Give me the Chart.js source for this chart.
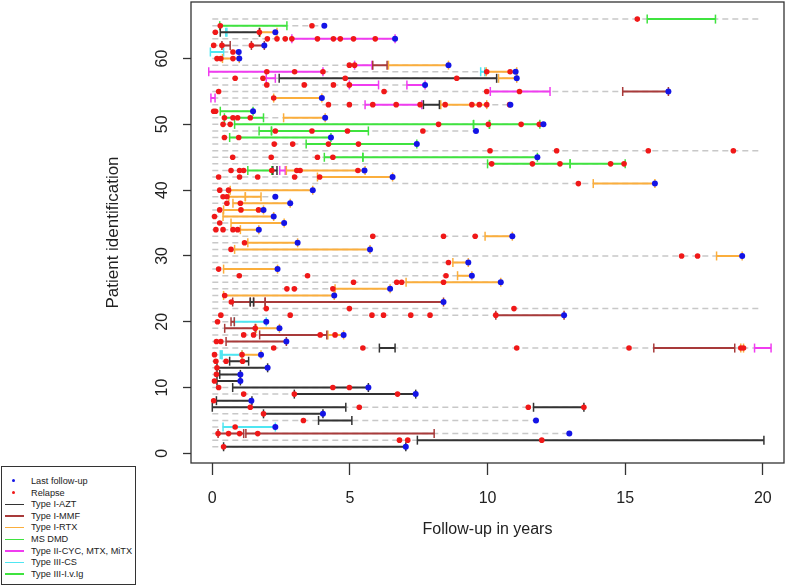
<!DOCTYPE html>
<html>
<head>
<meta charset="utf-8">
<script src="https://cdn.jsdelivr.net/npm/chart.js@4"></script>
<style>
  html, body { margin: 0; padding: 0; background: #fff; }
  #wrap { position: relative; width: 787px; height: 587px; }
  #legend {
    position: absolute; left: 1px; top: 466px; width: 133px; height: 117px;
    border: 1px solid #333; background: #fff;
    font-family: "Liberation Sans", Arial, sans-serif; font-size: 9.2px; color: #222;
  }
  .item { position: absolute; left: 0; height: 12px; line-height: 12px; white-space: nowrap; }
  .item .sym { position: absolute; left: 3px; width: 19px; top: 5.5px; height: 1.5px; }
  .item .dot { position: absolute; left: 10px; top: 4px; width: 3px; height: 3px; border-radius: 2px; }
  .item span { position: absolute; left: 29px; }
</style>
</head>
<body>
<div id="wrap">
  <canvas id="chart" width="787" height="587"></canvas>
  <div id="legend"></div>
</div>
<script>
// follow-up end (years) for patients 1..66 -> dashed line
const followUp = [
  7.03, 20.04, 12.97, 2.29, 11.76, 4.02, 13.5, 1.44, 7.39, 5.67,
  1.02, 1.02, 2.01, 1.32, 1.77, 19.85, 2.69, 4.77, 2.44, 1.96,
  12.78, 19.85, 8.40, 4.43, 6.46, 10.48, 9.43, 2.37, 9.30, 19.25,
  5.73, 3.10, 10.9, 1.69, 2.61, 2.23, 1.86, 2.83, 2.29, 3.65,
  16.08, 6.55, 5.53, 15.0, 11.81, 19.85, 7.43, 4.31, 9.58, 12.03,
  4.10, 1.48, 10.83, 3.98, 16.57, 7.73, 11.06, 11.02, 8.58, 0.98,
  0.96, 1.89, 6.64, 2.29, 4.07, 19.85
];

// [patient, year]
const lastFollowUp = [
  [1, 7.03], [3, 12.97], [4, 2.29], [5, 11.76], [6, 4.02], [8, 1.42], [9, 7.39], [10, 5.67],
  [11, 1.02], [12, 1.02], [13, 2.01], [15, 1.77], [17, 2.69], [18, 4.77], [19, 2.44], [20, 1.96],
  [21, 12.78], [23, 8.40], [24, 4.43], [25, 6.46], [26, 10.48], [27, 9.43], [28, 2.37], [29, 9.30],
  [30, 19.25], [31, 5.73], [32, 3.10], [33, 10.9], [34, 1.69], [35, 2.61], [36, 2.23], [37, 1.86],
  [38, 2.83], [39, 2.29], [40, 3.65], [41, 16.08], [42, 6.55], [43, 5.53], [45, 11.81], [47, 7.43],
  [48, 4.31], [49, 9.58], [50, 12.03], [51, 4.10], [52, 1.48], [53, 10.83], [54, 3.98], [55, 16.57],
  [56, 7.73], [57, 11.06], [58, 11.02], [59, 8.58], [60, 0.98], [61, 0.96], [62, 1.89], [63, 6.64],
  [64, 2.29], [65, 4.07]
];

const relapses = [
  [1, 0.41], [2, 6.80], [2, 7.10], [2, 11.97], [3, 0.21], [3, 0.59], [3, 0.99], [3, 1.65],
  [4, 0.83], [5, 3.31], [6, 1.86], [7, 1.38], [7, 5.34], [7, 11.48], [7, 13.5], [8, 0.05],
  [9, 1.14], [9, 2.98], [9, 6.73], [10, 0.23], [10, 4.38], [10, 4.98], [11, 0.08], [12, 0.15],
  [13, 0.17], [14, 0.13], [14, 0.50], [14, 1.10], [15, 0.08], [15, 1.08],
  [16, 2.23], [16, 5.47], [16, 11.06], [16, 15.14], [16, 19.2], [16, 19.3],
  [17, 0.15], [17, 0.31], [18, 1.14], [18, 1.50], [18, 3.92], [18, 4.46], [19, 1.56], [20, 0.19],
  [21, 0.31], [21, 2.83], [21, 5.80], [21, 6.22], [21, 7.21], [21, 7.91], [21, 10.3],
  [22, 1.96], [22, 4.98], [22, 10.96], [23, 0.69], [24, 0.45], [25, 2.71], [25, 2.98], [25, 4.38],
  [26, 5.13], [26, 6.70], [26, 6.88], [26, 8.40], [27, 0.98], [27, 3.46], [27, 8.49], [28, 0.23],
  [29, 8.58], [30, 17.05], [30, 17.63], [31, 0.68], [32, 1.17], [33, 5.83], [33, 8.40], [33, 9.55],
  [34, 0.13], [34, 0.39], [34, 0.75], [34, 0.92], [35, 0.27], [36, 0.08], [37, 0.27], [37, 1.04],
  [37, 1.68], [38, 0.53], [38, 1.02], [39, 0.39], [39, 0.53], [40, 0.27], [40, 0.59], [41, 13.3],
  [42, 0.23], [42, 0.99], [42, 1.65], [42, 2.99], [42, 3.90],
  [43, 0.68], [43, 0.99], [43, 1.14], [43, 2.16], [43, 3.07], [43, 3.19], [43, 5.29],
  [44, 10.15], [44, 11.63], [44, 12.63], [44, 14.47], [44, 14.96],
  [45, 0.74], [45, 2.14], [45, 3.82], [45, 4.38], [46, 10.09], [46, 12.51], [46, 15.84], [46, 18.93],
  [47, 2.25], [47, 2.92], [47, 4.22], [47, 5.31], [48, 0.44], [48, 0.96],
  [49, 2.29], [49, 3.62], [49, 4.91], [49, 7.65],
  [50, 0.39], [50, 0.65], [50, 8.22], [50, 10.03], [50, 11.22], [50, 11.88],
  [51, 0.44], [51, 0.75], [51, 0.92], [51, 1.38], [52, 0.05], [52, 0.12],
  [53, 4.22], [53, 4.98], [53, 5.83], [53, 6.68], [53, 7.55], [53, 8.46], [53, 9.43], [53, 9.70],
  [53, 9.97], [53, 10.8], [54, 2.23], [55, 0.23], [55, 6.24], [55, 9.97], [55, 11.16],
  [56, 1.98], [56, 3.34], [56, 4.40], [56, 4.98], [57, 0.83], [57, 1.84], [57, 4.83], [57, 8.88],
  [58, 1.98], [58, 2.99], [58, 4.02], [58, 9.97], [58, 10.82], [59, 4.98], [59, 5.17],
  [60, 0.17], [60, 0.31], [60, 0.75], [61, 0.75], [62, 0.05], [62, 0.35], [62, 1.42],
  [63, 2.0], [63, 2.35], [63, 2.65], [63, 2.89], [63, 3.82], [63, 4.40], [63, 4.65], [63, 5.13],
  [63, 5.92], [64, 0.11], [64, 1.71], [65, 0.29], [65, 3.62], [66, 15.44]
];

// treatment periods: [patient, start, end]
const aztSeg = [
  [64, 0.29, 1.71], [57, 2.43, 10.33], [53, 7.67, 8.25], [43, 2.2, 2.35], [23, 1.38, 1.5],
  [16, 6.07, 6.64], [14, 0.63, 1.32], [13, 0.17, 2.01], [12, 0.27, 1.02], [11, 0.17, 1.02],
  [10, 0.74, 5.67], [9, 2.98, 7.39], [8, 0.15, 1.44], [7, 0.0, 4.85], [7, 11.67, 13.5],
  [6, 1.86, 4.02], [5, 3.86, 5.07], [2, 7.45, 20.04], [1, 0.41, 7.03]
];
const mmfSeg = [
  [62, 0.35, 0.65], [62, 1.42, 1.89], [59, 5.83, 6.35], [55, 14.91, 16.57], [23, 0.74, 1.38],
  [23, 1.5, 1.92], [23, 1.92, 8.40], [21, 10.3, 12.78], [20, 0.68, 0.80], [19, 0.45, 1.56],
  [18, 1.72, 4.16], [17, 0.50, 2.69], [16, 16.04, 18.98], [3, 0.21, 1.14], [3, 1.22, 8.06]
];
const rtxSeg = [
  [64, 1.74, 2.35], [60, 0.37, 0.98], [59, 6.4, 8.58], [58, 9.95, 11.06], [57, 10.4, 11.06],
  [54, 2.23, 3.98], [53, 8.3, 9.97], [51, 2.59, 4.10], [43, 2.69, 5.55], [42, 3.82, 6.55],
  [41, 13.84, 16.08], [40, 0.65, 3.65], [39, 0.6, 1.2], [39, 1.2, 1.77], [38, 0.75, 2.83],
  [37, 0.41, 1.86], [36, 0.39, 2.23], [35, 0.68, 2.61], [34, 1.02, 1.69], [33, 9.91, 10.9],
  [32, 1.29, 3.10], [31, 0.81, 5.73], [30, 18.32, 19.25], [29, 8.74, 9.30], [28, 0.41, 2.37],
  [27, 8.91, 9.43], [26, 7.04, 10.48], [25, 4.46, 6.46], [24, 0.41, 4.43], [19, 1.6, 2.44],
  [18, 4.2, 4.77], [16, 19.2, 19.3], [15, 1.08, 1.77]
];
const msdmdSeg = [
  [65, 0.27, 2.71], [52, 0.29, 1.48], [51, 0.44, 1.86], [50, 0.81, 9.49], [50, 9.49, 10.07],
  [50, 10.07, 11.9], [49, 1.7, 2.15], [49, 2.15, 5.67], [48, 0.63, 4.31], [47, 3.41, 7.43],
  [45, 4.07, 5.47], [45, 5.47, 11.81], [43, 1.29, 2.16]
];
const cycSeg = [
  [63, 2.89, 6.64], [59, 5.17, 5.8], [58, -0.13, 4.02], [57, 1.96, 2.29], [56, 4.98, 6.04],
  [56, 7.07, 7.73], [55, 10.1, 12.27], [54, -0.05, 0.1], [53, 5.55, 7.61], [43, 2.45, 2.65],
  [16, 19.7, 20.3]
];
const csSeg = [
  [64, 0.49, 0.53], [61, -0.07, 0.41], [58, 9.75, 9.9], [20, 0.80, 1.96], [15, 0.29, 0.35],
  [15, 0.35, 1.08], [4, 0.39, 2.29]
];
const ivigSeg = [
  [66, 15.8, 18.28], [44, 10.0, 13.0], [44, 13.0, 15.0]
];

const xTicks = [0, 5, 10, 15, 20];
const yTicks = [0, 10, 20, 30, 40, 50, 60];

const treatments = [
  { label: "Type I-AZT", color: "#333333", segs: aztSeg },
  { label: "Type I-MMF", color: "#a83a3a", segs: mmfSeg },
  { label: "Type I-RTX", color: "#fbae3c", segs: rtxSeg },
  { label: "MS DMD", color: "#3fe33f", segs: msdmdSeg },
  { label: "Type II-CYC, MTX, MiTX", color: "#f03cf0", segs: cycSeg },
  { label: "Type III-CS", color: "#4fe6f2", segs: csSeg },
  { label: "Type III-I.v.Ig", color: "#3fe33f", segs: ivigSeg }
];

function segData(segs) {
  let out = [];
  segs.forEach(s => {
    out.push({ x: s[1], y: s[0] }, { x: s[2], y: s[0] }, { x: null, y: null });
  });
  return out;
}

let dashData = [];
followUp.forEach((end, i) => {
  dashData.push({ x: 0, y: i + 1 }, { x: end, y: i + 1 }, { x: null, y: null });
});

let datasets = [];
datasets.push({
  label: "Last follow-up", order: 0, showLine: false,
  data: lastFollowUp.map(p => ({ x: p[1], y: p[0] })),
  pointStyle: "circle", pointRadius: 3, pointBackgroundColor: "#1414e6", pointBorderWidth: 0
});
datasets.push({
  label: "Relapse", order: 1, showLine: false,
  data: relapses.map(p => ({ x: p[1], y: p[0] })),
  pointStyle: "circle", pointRadius: 2.8, pointBackgroundColor: "#f01818", pointBorderWidth: 0
});
treatments.forEach(t => {
  datasets.push({
    label: t.label, order: 2, data: segData(t.segs),
    borderColor: t.color, borderWidth: 2, spanGaps: false, fill: false,
    pointStyle: "line", pointRotation: 90, pointRadius: 4.5,
    pointBorderColor: t.color, pointBorderWidth: 1.5, pointBackgroundColor: t.color
  });
});
datasets.push({
  label: "follow-up", order: 3, data: dashData,
  borderColor: "#c8c8c8", borderWidth: 1.5, borderDash: [6, 4], pointRadius: 0, spanGaps: false
});

const boxPlugin = {
  id: "box",
  afterDatasetsDraw(chart) {
    const a = chart.chartArea, ctx = chart.ctx;
    ctx.save();
    ctx.strokeStyle = "#333";
    ctx.lineWidth = 1.3;
    ctx.strokeRect(a.left, a.top, a.right - a.left, a.bottom - a.top);
    ctx.restore();
  }
};

function noPad(s) {
  s.paddingTop = 0; s.paddingBottom = 0; s.paddingLeft = 0; s.paddingRight = 0;
}

const font = { family: "'Liberation Sans', Arial, sans-serif", size: 16 };

new Chart(document.getElementById("chart"), {
  type: "line",
  data: { datasets: datasets },
  plugins: [boxPlugin],
  options: {
    responsive: false,
    animation: false,
    layout: { autoPadding: false, padding: { left: 0, top: 2, right: 3, bottom: 0 } },
    plugins: { legend: { display: false }, tooltip: { enabled: false } },
    scales: {
      x: {
        type: "linear", min: -0.774, max: 20.77,
        afterBuildTicks: s => { s.ticks = xTicks.map(v => ({ value: v })); },
        afterFit: s => { s.height = 124; noPad(s); },
        border: { display: false },
        grid: { drawOnChartArea: false, color: "#333", tickLength: 12, tickWidth: 1.3 },
        ticks: { color: "#222", font: font, padding: 14, maxRotation: 0 },
        title: { display: true, text: "Follow-up in years", color: "#222",
                 font: { family: font.family, size: 16 }, padding: { top: 0, bottom: 48 } }
      },
      y: {
        type: "linear", min: -1.47, max: 68.6,
        afterBuildTicks: s => { s.ticks = yTicks.map(v => ({ value: v })); },
        afterFit: s => { s.width = 191; noPad(s); },
        border: { display: false },
        grid: { drawOnChartArea: false, color: "#333", tickLength: 8, tickWidth: 1.3 },
        ticks: { color: "#222", font: font, padding: 12, minRotation: 90, maxRotation: 90, crossAlign: "center" },
        title: { display: true, text: "Patient identification", color: "#222",
                 font: { family: font.family, size: 17 }, padding: { top: 103, bottom: 0 } }
      }
    }
  }
});

// legend (bottom left, outside the plot)
const legendItems = [
  { label: "Last follow-up", dot: "#1414e6" },
  { label: "Relapse", dot: "#f01818" }
].concat(treatments.map(t => ({ label: t.label, line: t.color })));

const legend = document.getElementById("legend");
legendItems.forEach((it, i) => {
  let row = document.createElement("div");
  row.className = "item";
  row.style.top = (8 + i * 11.6) + "px";
  let sym = document.createElement("div");
  if (it.dot) {
    sym.className = "dot";
    sym.style.background = it.dot;
  } else {
    sym.className = "sym";
    sym.style.background = it.line;
  }
  row.appendChild(sym);
  let txt = document.createElement("span");
  txt.textContent = it.label;
  row.appendChild(txt);
  legend.appendChild(row);
});
</script>
</body>
</html>
